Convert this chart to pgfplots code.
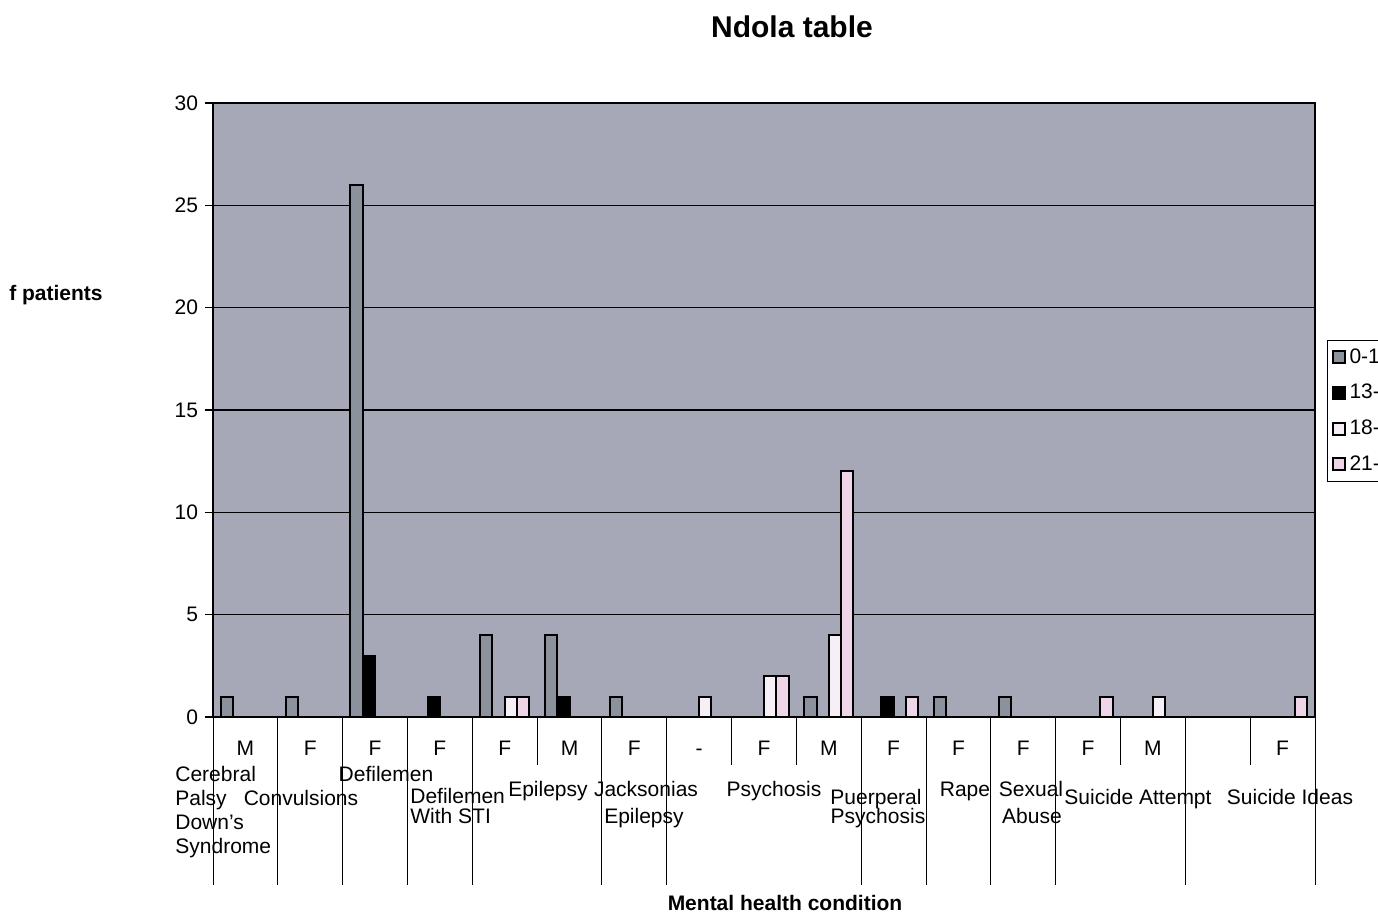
\documentclass[border=0pt]{standalone}
\usepackage{pgfplots}
\pgfplotsset{compat=1.18}
\usepackage{fontspec}
\setmainfont{Liberation Sans}

\definecolor{plotbg}{HTML}{A6A8B8}
\definecolor{sone}{HTML}{8C929C}
\definecolor{sthree}{HTML}{F6F0F6}
\definecolor{sfour}{HTML}{EED6E8}

\begin{document}
\begin{tikzpicture}
\begin{axis}[
    at={(106.5pt,99.5pt)}, anchor=south west,
    scale only axis, width=551pt, height=307pt,
    xmin=-0.5, xmax=16.5, ymin=0, ymax=30,
    ytick={0,5,...,30},
    xtick={0,...,16},
    xticklabels={M,F,F,F,F,M,F,-,F,M,F,F,F,F,M,,F},
    xtick style={draw=none},
    xticklabel style={anchor=base, yshift=-15.5pt},
    ymajorgrids, grid style={black, line width=0.7pt},
    axis background/.style={fill=plotbg},
    axis line style={black, line width=0.8pt},
    ytick align=outside, ytick pos=left, major tick length=4pt,
    ytick style={black, line width=0.8pt},
    tick label style={font=\fontsize{10.5}{12}\selectfont},
    /pgf/number format/assume math mode=true,
    ybar=0pt, bar width=0.19,
    clip=false,
    legend style={at={(1.011,0.614)}, anchor=north west, draw=black, fill=white,
        font=\fontsize{10.5}{12}\selectfont, row sep=5pt, inner sep=2pt},
    legend cell align=left,
    legend image code/.code={\draw[#1] (0pt,-3pt) rectangle (6pt,3pt);},
    every axis plot/.append style={draw=black, line width=1pt},
]
% 0-12
\addplot[fill=sone] coordinates {(0,1) (1,1) (2,26) (4,4) (5,4) (6,1) (9,1) (11,1) (12,1)};
% 13-17
\addplot[fill=black] coordinates {(2,3) (3,1) (5,1) (10,1)};
% 18-20
\addplot[fill=sthree] coordinates {(4,1) (7,1) (8,2) (9,4) (14,1)};
% 21+
\addplot[fill=sfour] coordinates {(4,1) (8,2) (9,12) (10,1) (13,1) (16,1)};
% legend is cut by the page edge in the original, so only the visible part is written
\legend{0-1\hspace{8pt},13-\hspace{8pt},18-\hspace{8pt},21-\hspace{8pt}}

% category separators (long = condition, short = sex)
\pgfplotsinvokeforeach{-0.5,0.5,1.5,2.5,3.5,5.5,6.5,9.5,10.5,11.5,12.5,14.5,16.5}{
    \draw[black, line width=0.5pt] (axis cs:#1,0) -- ++(0pt,-84pt);
}
\pgfplotsinvokeforeach{4.5,7.5,8.5,13.5,15.5}{
    \draw[black, line width=0.5pt] (axis cs:#1,0) -- ++(0pt,-24pt);
}
\end{axis}

\begin{scope}[x=0.5pt, y=-0.5pt, yshift=458pt,
    every node/.style={font=\fontsize{10.5}{12}\selectfont, inner sep=0pt}]
\node[font=\bfseries\fontsize{15}{18}\selectfont] at (792,27) {Ndola table};
\node[font=\bfseries\fontsize{10.5}{12}\selectfont] at (56,295) {f patients};
\node[font=\bfseries\fontsize{10.5}{12}\selectfont] at (785,903) {Mental health condition};

\node[anchor=base west] at (175,782) {Cerebral};
\node[anchor=base west] at (175,806) {Palsy};
\node[anchor=base west] at (175,830) {Down's};
\node[anchor=base west] at (175,854) {Syndrome};
\node[anchor=base] at (301,806) {Convulsions};
\node[anchor=base] at (386,782) {Defilemen};
\node[anchor=base west] at (410,804) {Defilemen};
\node[anchor=base west] at (410,824) {With STI};
\node[anchor=base] at (548,797) {Epilepsy};
\node[anchor=base] at (646,797) {Jacksonias};
\node[anchor=base] at (644,824) {Epilepsy};
\node[anchor=base] at (774,797) {Psychosis};
\node[anchor=base] at (876,805) {Puerperal};
\node[anchor=base] at (878,824) {Psychosis};
\node[anchor=base] at (965,797) {Rape};
\node[anchor=base] at (1031,797) {Sexual};
\node[anchor=base] at (1032,824) {Abuse};
\node[anchor=base] at (1138,805) {Suicide Attempt};
\node[anchor=base] at (1290,805) {Suicide Ideas};
\end{scope}

\pgfresetboundingbox
\path[use as bounding box] (0pt,0pt) rectangle (689pt,458pt);
\end{tikzpicture}
\end{document}
